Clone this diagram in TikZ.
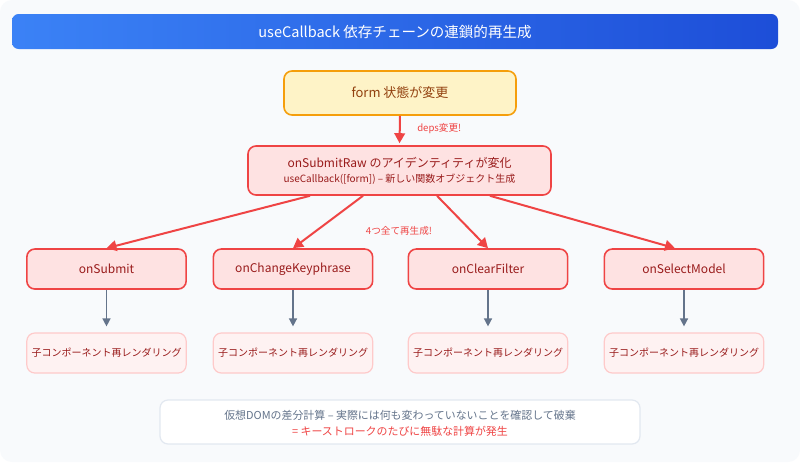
\documentclass[tikz,border=0pt]{standalone}
\usepackage{fontspec}
\setmainfont{Noto Sans CJK JP}
\usetikzlibrary{arrows.meta,calc}
\definecolor{bgc}{HTML}{F8FAFC}
\definecolor{blueA}{HTML}{3B82F6}
\definecolor{blueB}{HTML}{1D4ED8}
\definecolor{amberF}{HTML}{FEF3C7}
\definecolor{amberD}{HTML}{F59E0B}
\definecolor{amberT}{HTML}{92400E}
\definecolor{redF}{HTML}{FEE2E2}
\definecolor{redD}{HTML}{EF4444}
\definecolor{redT}{HTML}{991B1B}
\definecolor{redLF}{HTML}{FEF2F2}
\definecolor{redLD}{HTML}{FECACA}
\definecolor{slateA}{HTML}{64748B}
\definecolor{slateB}{HTML}{E2E8F0}
\tikzset{
  fnt/.style={font=\fontsize{#1}{#1}\selectfont},
  box/.style={rounded corners=6pt, line width=1.2pt, inner sep=0pt, minimum height=30pt},
  fbox/.style={box, fill=redF, draw=redD, text=redT, minimum width=119.5pt, fnt=9},
  cbox/.style={box, fill=redLF, draw=redLD, line width=0.9pt, text=redT, minimum width=119.5pt, fnt=7.5},
  redarrow/.style={draw=redD, line width=1.5pt, -{Triangle[length=7.5pt,width=8pt]}},
  grayarrow/.style={draw=slateA, line width=1.1pt, -{Triangle[length=6pt,width=6pt]}, shorten >=4.5pt},
}
\begin{document}
\begin{tikzpicture}[x=0.75pt,y=-0.75pt]
\useasboundingbox (0,0) rectangle (800,462);
\fill[white] (0,0) rectangle (800,462);
\fill[bgc, rounded corners=9pt] (0,0) rectangle (800,462);

\node[name=title, rounded corners=5pt, left color=blueA, right color=blueB, minimum width=574.5pt, minimum height=26.25pt, inner sep=0pt, text=white, fnt=10.9] at (395,31.5) {useCallback 依存チェーンの連鎖的再生成};

\node[name=form, box, fill=amberF, draw=amberD, text=amberT, minimum width=174pt, minimum height=33pt, fnt=9.75] at (400,93) {form 状態が変更};

\node[name=raw, box, fill=redF, draw=redD, minimum width=227.25pt, minimum height=36.75pt] at (399.5,170.5) {};
\node[name=raw1, text=redT, fnt=9, inner sep=0pt] at (399.5,163) {onSubmitRaw のアイデンティティが変化};
\node[name=raw2, text=redT, fnt=7.5, inner sep=0pt] at (399.5,179) {useCallback([form]) – 新しい関数オブジェクト生成};

\draw[redarrow, shorten >=1.5pt] (form.south) -- (raw.north);
\node[name=deps, anchor=west, text=redD, fnt=7.2, inner sep=0pt] at (417,129) {deps変更!};

\node[name=b1, fbox] at (106.5,269) {onSubmit};
\node[name=b2, fbox] at (293,269) {onChangeKeyphrase};
\node[name=b3, fbox] at (488,269) {onClearFilter};
\node[name=b4, fbox] at (684,269) {onSelectModel};

\draw[redarrow] ($(raw.south)+(-89.5,0)$) -- (b1.north);
\draw[redarrow] ($(raw.south)+(-36.5,0)$) -- (b2.north);
\draw[redarrow] ($(raw.south)+(37.5,0)$) -- (b3.north);
\draw[redarrow] ($(raw.south)+(90.5,0)$) -- ($(b4.north)+(-9,0)$);
\node[name=all4, text=redD, fnt=7.2, inner sep=0pt] at (399,231) {4つ全て再生成!};

\node[name=c1, cbox] at (106.5,353) {子コンポーネント再レンダリング};
\node[name=c2, cbox] at (293,353) {子コンポーネント再レンダリング};
\node[name=c3, cbox] at (488,353) {子コンポーネント再レンダリング};
\node[name=c4, cbox] at (684,353) {子コンポーネント再レンダリング};

\draw[grayarrow] (b1.south) -- (c1.north);
\draw[grayarrow] (b2.south) -- (c2.north);
\draw[grayarrow] (b3.south) -- (c3.north);
\draw[grayarrow] (b4.south) -- (c4.north);

\node[name=note, box, fill=white, draw=slateB, line width=0.9pt, minimum width=360pt, minimum height=33pt] at (400,422) {};
\node[name=note1, text=slateA, fnt=8.2, inner sep=0pt] at (400,415) {仮想DOMの差分計算 – 実際には何も変わっていないことを確認して破棄};
\node[name=note2, text=redD, fnt=8.2, inner sep=0pt] at (400,431) {= キーストロークのたびに無駄な計算が発生};
\end{tikzpicture}
\end{document}
